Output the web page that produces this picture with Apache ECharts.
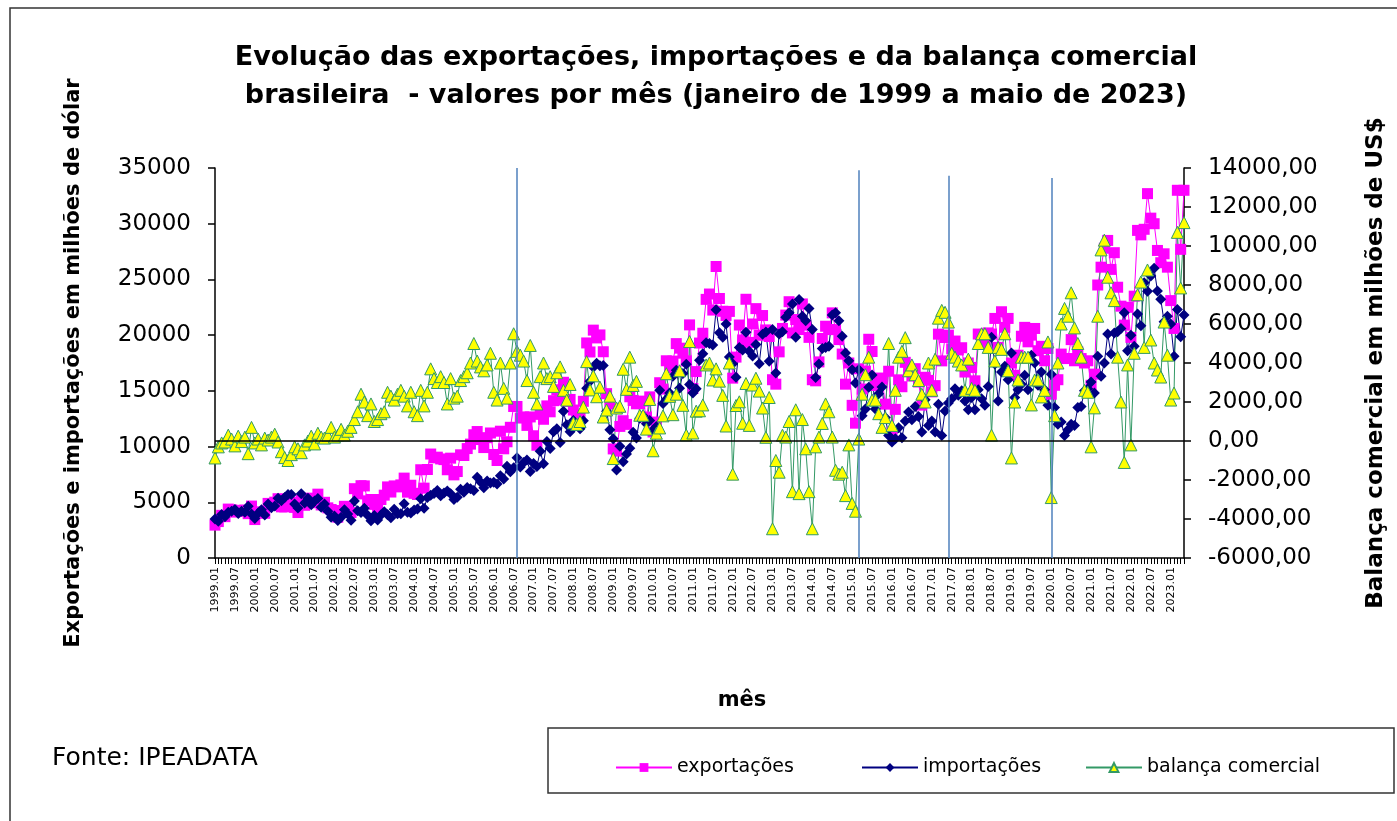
<!DOCTYPE html>
<html><head><meta charset="utf-8">
<script src="https://cdn.jsdelivr.net/npm/echarts@6/dist/echarts.min.js"></script>
<style>html,body{margin:0;padding:0;background:#fff;overflow:hidden}#c{width:1397px;height:821px}</style>
</head><body><div id="c"></div>
<script>
// Category labels: monthly, 1999.01 .. 2023.05
const years = [1999,2000,2001,2002,2003,2004,2005,2006,2007,2008,2009,2010,2011,2012,2013,2014,2015,2016,2017,2018,2019,2020,2021,2022,2023];
const monthCodes = ['01','02','03','04','05','06','07','08','09','10','11','12'];
const categories = [];
years.forEach(y => monthCodes.forEach(m => { if (!(y === 2023 && +m > 5)) categories.push(y + '.' + m); }));

// exportações (US$ milhões)
const exportacoes = [
 2950,3270,3830,3710,4390,4310,4120,4280,4190,4300,3980,4660,
 3450,4120,4120,4010,4900,4710,5010,5320,4590,4590,4690,5000,
 4540,4080,5170,4730,5370,5040,4960,5730,4760,5000,4500,4350,
 3970,3660,4260,4640,4440,4080,6220,5750,6490,6470,5130,5250,
 4810,4520,5250,5640,6380,5920,6470,6380,6560,7170,5910,6530,
 5800,5700,7920,6270,7940,9330,8990,9050,8890,8830,7920,8960,
 7460,7760,9260,9200,9820,10220,11060,11350,10630,9910,10800,11220,
 9290,8750,11380,9800,10430,11730,13600,13600,12560,12660,11900,12660,
 10970,10120,12890,12450,13650,13120,14120,15100,14170,15770,14050,14230,
 13280,12800,12610,14060,19300,18490,20450,19750,20020,18510,14750,13820,
 9790,9590,11810,12320,11990,14470,14140,13840,13860,14080,12650,14460,
 11310,12200,15730,15160,17700,17090,17670,19240,18830,18380,17690,20920,
 15210,16730,19290,20170,23210,23690,22250,26160,23290,22140,21770,22130,
 16140,18030,20910,19570,23220,19350,21000,22380,19990,21760,20470,19880,
 16000,15600,18500,20600,21800,23000,20200,21400,20500,22800,20900,19800,
 16000,15900,17600,19700,20800,20500,22000,20500,19600,18300,15600,17500,
 13700,12100,16980,15160,16770,19630,18530,15480,16150,16050,13810,16760,
 11250,13340,15990,15370,17560,16740,16330,16990,15800,13720,16220,15940,
 14910,15470,20090,17690,19790,20000,18770,19470,18670,18870,16690,17500,
 17100,15900,20100,19800,19200,20200,20100,21500,18900,22100,20700,21500,
 17500,16400,18200,19900,20700,19400,20000,20600,18600,19000,17700,18800,
 14700,15500,16000,18300,17900,17900,19600,17700,18500,17900,17500,17700,
 15500,16500,24500,26100,27800,28500,25900,27400,24300,22600,20900,22500,
 19800,23500,29400,29000,29500,32700,30500,30000,27600,26500,27300,26100,
 23100,20600,33000,27700,33000
];

// importações (US$ milhões)
const importacoes = [
 3500,3300,3900,3700,4100,4200,4350,4000,4200,4100,4650,3950,
 3550,4020,4320,3860,4850,4510,4660,5370,5140,5440,5690,5700,
 4840,4480,5770,4930,5370,4790,5110,5330,4560,4850,4200,3650,
 3770,3360,3660,4340,3940,3380,5120,4250,4090,4470,3830,3350,
 3810,3420,3850,4140,3880,3620,4370,3980,3960,4870,4110,4030,
 4300,4400,5320,4470,5440,5630,5790,6050,5590,5830,6020,5760,
 5260,5460,6160,5900,6320,6220,6060,7250,6830,6310,6900,6720,
 6790,6650,7380,7100,8230,7730,8100,9000,8160,8560,8800,7760,
 8470,8220,9590,8450,10450,9820,11320,11600,10370,13170,11950,11330,
 12350,11950,11610,12320,15230,15870,17110,17480,17260,17280,13160,11520,
 10700,7900,10030,8640,9340,9840,11290,10780,12540,12760,12040,12330,
 11480,11800,15060,13870,14250,14800,16320,16840,15230,16550,17380,15570,
 14800,15200,17740,18320,19310,19240,19120,22280,20220,19800,21000,18030,
 17440,16210,18900,18660,20270,18550,18130,19160,17430,20070,20280,17650,
 20500,16600,20100,20300,21600,22000,22800,19800,23200,21700,21300,22400,
 20500,16200,17400,18800,18900,19000,21800,22000,21300,19900,18400,17700,
 16900,15700,16900,12760,13370,15330,16430,13380,14750,15350,12610,11000,
 10400,10700,11700,10800,12300,13100,12400,13600,12700,11300,14200,11900,
 12300,11300,13800,11000,13200,13900,14300,15200,14600,15000,14100,13300,
 14400,13300,15100,14300,13700,15400,19800,17400,14100,16700,17200,16000,
 18400,14400,15100,15600,16400,15100,18200,17500,15500,16700,15100,13700,
 16500,13500,12000,12200,11000,11500,12000,11900,13500,13600,15000,15200,
 15800,14800,18100,16300,17500,20100,18300,20200,20300,20600,22000,18600,
 20000,19000,21900,20850,24700,23930,25300,26000,23960,23220,21200,21700,
 21000,18100,22300,19850,21800
];

// balança comercial (US$ milhões)
const balanca = [
 -870,-300,-100,-50,300,100,-250,250,-30,200,-650,700,
 -100,100,-200,150,50,200,350,-50,-550,-850,-1000,-700,
 -300,-400,-600,-200,0,250,-150,400,200,150,300,700,
 200,300,600,300,500,700,1100,1500,2400,2000,1300,1900,
 1000,1100,1400,1500,2500,2300,2100,2400,2600,2300,1800,2500,
 1500,1300,2600,1800,2500,3700,3200,3000,3300,3000,1900,3200,
 2200,2300,3100,3300,3500,4000,5000,4100,3800,3600,3900,4500,
 2500,2100,4000,2700,2200,4000,5500,4600,4400,4100,3100,4900,
 2500,1900,3300,4000,3200,3300,2800,3500,3800,2600,2100,2900,
 930,850,1000,1740,4070,2620,3340,2270,2760,1230,1590,2300,
 -900,1690,1780,3680,2650,4300,2850,3060,1320,1320,610,2130,
 -500,400,670,1290,3450,2290,1350,2400,3600,1830,310,5100,
 410,1530,1550,1850,3900,4000,3130,3700,3070,2340,770,4000,
 -1700,1820,2010,910,2950,800,2870,3220,2560,1690,190,2230,
 -4500,-1000,-1600,300,200,1000,-2600,1600,-2700,1100,-400,-2600,
 -4500,-300,200,900,1900,1500,200,-1500,-1700,-1600,-2800,-200,
 -3200,-3600,100,2400,3400,4300,2100,2100,1400,700,1200,5000,
 800,2600,4300,4600,5300,3600,3900,3400,3100,2400,2000,4000,
 2600,4200,6300,6700,6600,6100,4500,4300,4100,3900,2600,4200,
 2700,2600,5000,5500,5500,4800,300,4100,4800,4700,5500,3600,
 -870,2000,3130,4300,4300,4300,1850,3130,3130,2260,2600,5080,
 -2900,1300,4000,6000,6800,6400,7600,5800,5000,4300,2600,2500,
 -300,1700,6400,9800,10300,8400,7600,7200,4300,2000,-1100,3900,
 -200,4500,7500,8150,4800,8770,5180,4000,3640,3280,6100,4400,
 2100,2460,10700,7850,11200
];

// vertical reference lines (month, top value on left axis)
const markerMonths = ['2006.08','2015.03','2017.06','2020.01'];
const markerTops = [35000, 34800, 34300, 34100];

const FONT = 'DejaVu Sans';
const chart = echarts.init(document.getElementById('c'), null, {renderer: 'canvas'});
chart.setOption({
  animation: false,
  backgroundColor: '#fff',
  grid: {left: 215, right: 213, top: 168, bottom: 263, containLabel: false},
  xAxis: {
    type: 'category', data: categories, boundaryGap: false,
    axisLine: {lineStyle: {color: '#000', width: 1.5}},
    axisTick: {show: true, interval: 0, length: 6, lineStyle: {color: '#000'}},
    axisLabel: {interval: 5, rotate: 90, fontSize: 11, color: '#000', fontFamily: FONT, margin: 9}
  },
  yAxis: [{
    type: 'value', min: 0, max: 35000, interval: 5000,
    axisLine: {show: true, lineStyle: {color: '#000', width: 1.5}},
    axisTick: {show: true, length: 7, lineStyle: {color: '#000', width: 1.5}},
    splitLine: {show: false},
    axisLabel: {fontSize: 23, color: '#000', fontFamily: FONT, margin: 24, formatter: v => String(v)},
    name: 'Exportações e importações em milhões de dólar',
    nameLocation: 'middle', nameRotate: 90, nameGap: 131,
    nameTextStyle: {fontSize: 21, fontWeight: 'bold', color: '#000', fontFamily: FONT}
  }, {
    type: 'value', min: -6000, max: 14000, interval: 2000, position: 'right',
    axisLine: {show: true, lineStyle: {color: '#000', width: 1.5}},
    axisTick: {show: true, length: 7, lineStyle: {color: '#000', width: 1.5}},
    splitLine: {show: false},
    axisLabel: {fontSize: 23, color: '#000', fontFamily: FONT, margin: 24,
      formatter: v => v.toFixed(2).replace('.', ',')},
    name: 'Balança comercial em milhões de US$',
    nameLocation: 'middle', nameRotate: 90, nameGap: 181,
    nameTextStyle: {fontSize: 23, fontWeight: 'bold', color: '#000', fontFamily: FONT}
  }],
  legend: [
    {data: ['exportações'], left: 610, top: 753, itemWidth: 56, itemHeight: 11, itemGap: 4,
     textStyle: {fontSize: 19, color: '#000', fontFamily: FONT}},
    {data: ['importações'], left: 856, top: 753, itemWidth: 56, itemHeight: 11, itemGap: 4,
     textStyle: {fontSize: 19, color: '#000', fontFamily: FONT}},
    {data: ['balança comercial'], left: 1080, top: 753, itemWidth: 56, itemHeight: 11, itemGap: 4,
     textStyle: {fontSize: 19, color: '#000', fontFamily: FONT}}
  ],
  graphic: [
    {type: 'polyline', shape: {points: [[10, 821], [10, 8], [1397, 8]]}, style: {fill: null, stroke: '#333', lineWidth: 1.5}, silent: true},
    {type: 'rect', shape: {x: 548, y: 728, width: 846, height: 65}, style: {fill: 'none', stroke: '#333', lineWidth: 1.5}, silent: true},
    {type: 'rect', shape: {x: 1370, y: 796, width: 27, height: 25}, style: {fill: '#fff', stroke: null}, silent: true, z: 100},
    {type: 'text', x: 716, y: 39, style: {text: 'Evolução das exportações, importações e da balança comercial\nbrasileira  - valores por mês (janeiro de 1999 a maio de 2023)',
      font: 'bold 27px "DejaVu Sans"', fill: '#000', textAlign: 'center', lineHeight: 38}},
    {type: 'text', x: 742, y: 690, style: {text: 'mês', font: 'bold 21px "DejaVu Sans"', fill: '#000', textAlign: 'center'}},
    {type: 'text', x: 52, y: 746, style: {text: 'Fonte: IPEADATA', font: '25px "DejaVu Sans"', fill: '#000'}}
  ],
  series: [
    {name: 'exportações', type: 'line', data: exportacoes, yAxisIndex: 0,
     symbol: 'rect', symbolSize: 11, showAllSymbol: true,
     itemStyle: {color: '#FF00FF'}, lineStyle: {color: '#FF00FF', width: 1},
     markLine: {silent: true, symbol: 'none', label: {show: false},
       lineStyle: {color: '#4F81BD', width: 1.5, type: 'solid'},
       data: markerMonths.map((m, i) => [{coord: [m, 0]}, {coord: [m, markerTops[i]]}])}},
    {name: 'importações', type: 'line', data: importacoes, yAxisIndex: 0,
     symbol: 'diamond', symbolSize: 11, showAllSymbol: true,
     itemStyle: {color: '#000080'}, lineStyle: {color: '#000080', width: 1}},
    {name: 'balança comercial', type: 'line', data: balanca, yAxisIndex: 1,
     symbol: 'triangle', symbolSize: 12, showAllSymbol: true,
     itemStyle: {color: '#FFFF00', borderColor: '#339966', borderWidth: 1},
     lineStyle: {color: '#339966', width: 1},
     markLine: {silent: true, symbol: 'none', label: {show: false},
       lineStyle: {color: '#000', width: 1.5, type: 'solid'}, data: [{yAxis: 0}]}}
  ]
});
</script></body></html>
